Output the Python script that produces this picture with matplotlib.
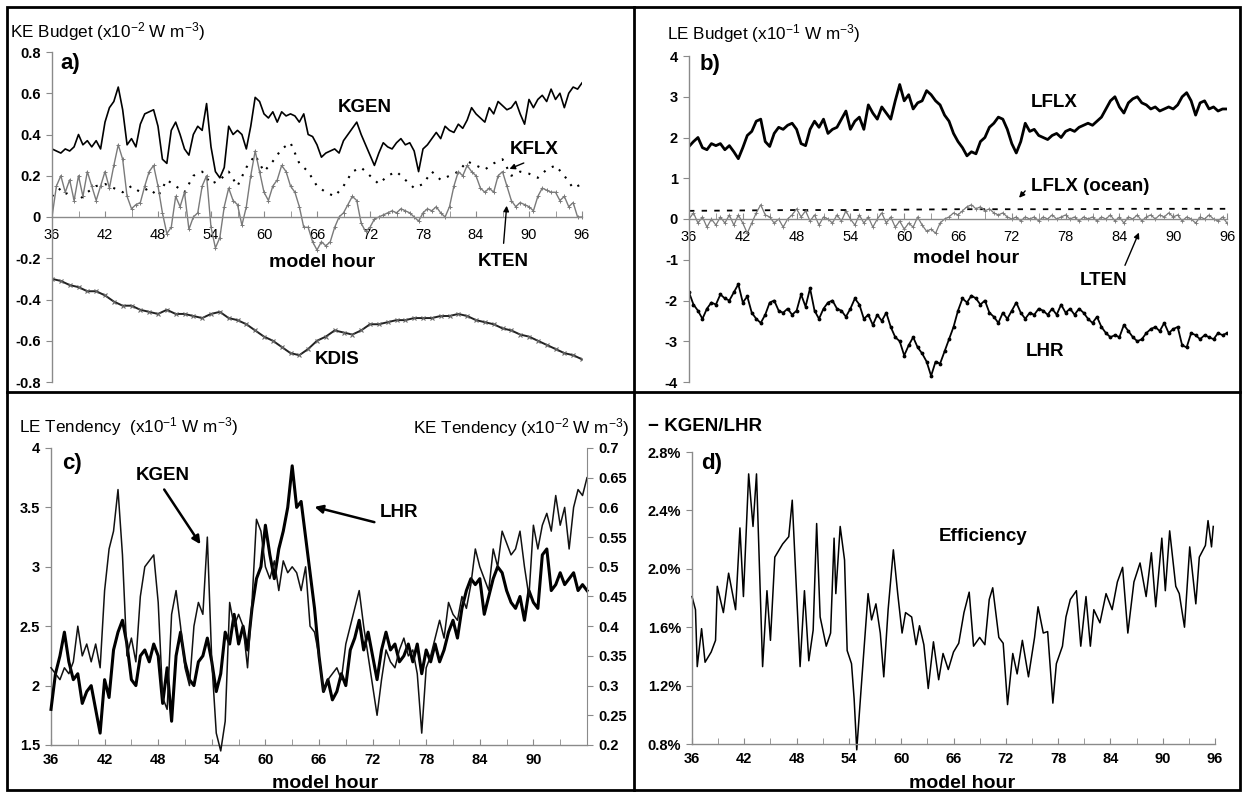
import numpy as np
import matplotlib
matplotlib.use("Agg")
from matplotlib import pyplot as plt
from matplotlib.lines import Line2D
from matplotlib.patches import Rectangle

plt.rcParams["font.family"] = ["Liberation Sans", "DejaVu Sans"]
plt.rcParams["axes.unicode_minus"] = False
plt.rcParams["mathtext.fontset"] = "custom"
plt.rcParams["mathtext.rm"] = "Liberation Sans"
plt.rcParams["mathtext.default"] = "regular"

# half-hourly model output, hours 36..96
hours = np.arange(36, 96.01, 0.5)

kgen = [0.33, 0.32, 0.31, 0.33, 0.32, 0.34, 0.40, 0.35, 0.37, 0.34,
        0.37, 0.33, 0.46, 0.53, 0.56, 0.63, 0.52, 0.35, 0.38, 0.34,
        0.45, 0.50, 0.51, 0.52, 0.44, 0.28, 0.26, 0.42, 0.46, 0.40,
        0.33, 0.30, 0.40, 0.44, 0.42, 0.55, 0.34, 0.22, 0.19, 0.24,
        0.44, 0.40, 0.42, 0.40, 0.33, 0.44, 0.58, 0.56, 0.50, 0.48,
        0.51, 0.46, 0.51, 0.49, 0.50, 0.49, 0.46, 0.50, 0.40, 0.39,
        0.35, 0.29, 0.31, 0.32, 0.33, 0.31, 0.37, 0.40, 0.43, 0.46,
        0.40, 0.35, 0.30, 0.25, 0.31, 0.36, 0.34, 0.33, 0.36, 0.38,
        0.35, 0.36, 0.32, 0.22, 0.33, 0.35, 0.38, 0.41, 0.38, 0.44,
        0.42, 0.41, 0.45, 0.43, 0.47, 0.53, 0.50, 0.48, 0.46, 0.53,
        0.50, 0.56, 0.54, 0.52, 0.53, 0.56, 0.50, 0.45, 0.57, 0.53,
        0.57, 0.59, 0.56, 0.62, 0.57, 0.60, 0.53, 0.60, 0.63, 0.62,
        0.65]

kten = [0.00, 0.15, 0.20, 0.12, 0.18, 0.08, 0.20, 0.10, 0.22, 0.15,
        0.08, 0.15, 0.22, 0.14, 0.25, 0.35, 0.28, 0.10, 0.04, 0.06,
        0.07, 0.15, 0.22, 0.25, 0.15, 0.02, -0.08, -0.05, 0.10, 0.05,
        0.12, -0.06, 0.00, 0.02, 0.15, 0.20, -0.05, -0.15, -0.10, 0.05,
        0.14, 0.08, 0.06, -0.04, 0.05, 0.20, 0.32, 0.22, 0.12, 0.08,
        0.15, 0.18, 0.25, 0.22, 0.15, 0.12, 0.05, -0.05, -0.05, -0.12,
        -0.16, -0.12, -0.14, -0.12, -0.05, 0.00, 0.02, 0.06, 0.10, 0.08,
        -0.03, -0.07, -0.05, -0.01, 0.00, 0.01, 0.02, 0.03, 0.02, 0.04,
        0.03, 0.02, 0.00, -0.02, 0.02, 0.04, 0.03, 0.05, 0.02, 0.00,
        0.05, 0.15, 0.22, 0.20, 0.25, 0.22, 0.20, 0.14, 0.12, 0.14,
        0.12, 0.20, 0.22, 0.15, 0.08, 0.05, 0.07, 0.06, 0.05, 0.03,
        0.10, 0.14, 0.13, 0.12, 0.12, 0.08, 0.10, 0.05, 0.07, 0.00,
        0.00]

lflx = [1.78, 1.90, 2.00, 1.75, 1.70, 1.85, 1.80, 1.85, 1.70, 1.80,
        1.65, 1.48, 1.75, 2.05, 2.15, 2.40, 2.45, 1.90, 1.78, 2.10,
        2.25, 2.20, 2.30, 2.35, 2.20, 1.85, 1.80, 2.20, 2.40, 2.25,
        2.45, 2.10, 2.20, 2.25, 2.45, 2.65, 2.20, 2.40, 2.50, 2.20,
        2.80, 2.60, 2.45, 2.75, 2.60, 2.45, 2.90, 3.30, 2.90, 3.05,
        2.70, 2.85, 2.90, 3.15, 3.05, 2.90, 2.80, 2.55, 2.40, 2.10,
        1.90, 1.75, 1.55, 1.65, 1.60, 1.90, 2.00, 2.25, 2.35, 2.50,
        2.45, 2.20, 1.85, 1.62, 1.90, 2.35, 2.15, 2.20, 2.05, 2.00,
        1.95, 2.05, 2.10, 2.00, 2.15, 2.20, 2.15, 2.25, 2.30, 2.35,
        2.30, 2.40, 2.50, 2.70, 2.90, 3.00, 2.75, 2.60, 2.85, 2.95,
        3.00, 2.85, 2.80, 2.70, 2.75, 2.65, 2.70, 2.75, 2.70, 2.80,
        3.00, 3.10, 2.90, 2.55, 2.85, 2.90, 2.70, 2.75, 2.65, 2.70,
        2.70]

lten = [0.00, 0.15, -0.10, 0.05, -0.20, 0.00, -0.15, 0.05, -0.10, 0.10,
        -0.15, 0.10, -0.10, -0.35, -0.10, 0.15, 0.35, 0.10, 0.05, -0.10,
        0.00, -0.20, 0.00, 0.10, 0.25, 0.05, 0.20, -0.05, 0.10, -0.15,
        0.05, 0.00, -0.10, 0.10, -0.05, 0.20, 0.00, -0.15, 0.10, -0.10,
        0.05, -0.20, 0.00, 0.15, -0.10, 0.05, -0.20, -0.05, -0.25, -0.10,
        -0.20, 0.05, -0.15, -0.30, -0.25, -0.35, -0.10, 0.00, 0.05, 0.15,
        0.10, 0.20, 0.30, 0.35, 0.25, 0.30, 0.20, 0.25, 0.15, 0.10,
        0.15, 0.05, 0.00, 0.05, -0.05, 0.05, 0.00, 0.05, -0.05, 0.05,
        0.00, 0.10, 0.00, 0.05, 0.10, 0.00, 0.05, -0.05, 0.05, 0.00,
        0.05, -0.05, 0.05, 0.00, 0.10, -0.05, 0.05, -0.10, 0.05, 0.00,
        0.10, -0.05, 0.05, 0.10, 0.00, 0.10, 0.05, 0.15, 0.05, 0.10,
        -0.05, 0.05, 0.00, -0.10, 0.05, 0.00, 0.10, 0.00, -0.05, 0.05,
        -0.10]

lhr = [-1.80, -2.10, -2.25, -2.45, -2.20, -2.05, -2.10, -1.85, -1.95, -2.00,
       -1.80, -1.60, -2.05, -1.90, -2.30, -2.45, -2.55, -2.35, -2.05, -2.00,
       -2.25, -2.30, -2.20, -2.35, -2.25, -1.85, -2.15, -1.70, -2.25, -2.45,
       -2.20, -2.05, -2.00, -2.20, -2.25, -2.40, -2.20, -1.95, -2.10, -2.45,
       -2.35, -2.60, -2.35, -2.50, -2.30, -2.65, -2.90, -3.00, -3.35, -3.10,
       -2.90, -3.15, -3.30, -3.50, -3.85, -3.50, -3.55, -3.25, -2.95, -2.65,
       -2.25, -1.95, -2.05, -1.88, -1.95, -2.10, -2.00, -2.30, -2.40, -2.55,
       -2.30, -2.45, -2.25, -2.05, -2.30, -2.45, -2.30, -2.35, -2.20, -2.25,
       -2.35, -2.20, -2.35, -2.10, -2.30, -2.20, -2.35, -2.20, -2.30, -2.45,
       -2.55, -2.40, -2.65, -2.80, -2.90, -2.85, -2.90, -2.60, -2.75, -2.90,
       -3.00, -2.95, -2.80, -2.70, -2.65, -2.75, -2.55, -2.80, -2.70, -2.65,
       -3.10, -3.15, -2.80, -2.85, -2.95, -2.85, -2.90, -2.95, -2.80, -2.85,
       -2.80]

# hourly series
hours_1h = np.arange(36, 97, 1)
kflx = [0.10, 0.14, 0.10, 0.08, 0.12, 0.15, 0.16, 0.14, 0.12, 0.15,
        0.12, 0.14, 0.10, 0.18, 0.15, 0.12, 0.20, 0.22, 0.16, 0.18,
        0.22, 0.15, 0.24, 0.30, 0.22, 0.27, 0.33, 0.36, 0.26, 0.22,
        0.15, 0.12, 0.10, 0.15, 0.22, 0.24, 0.20, 0.16, 0.20, 0.22,
        0.18, 0.14, 0.16, 0.22, 0.18, 0.20, 0.22, 0.27, 0.25, 0.23,
        0.26, 0.28, 0.20, 0.22, 0.21, 0.19, 0.23, 0.25, 0.20, 0.14,
        0.16]
kdis = [-0.30, -0.31, -0.33, -0.34, -0.36, -0.36, -0.38, -0.41, -0.43, -0.43,
        -0.45, -0.46, -0.47, -0.45, -0.47, -0.47, -0.48, -0.49, -0.47, -0.46,
        -0.49, -0.50, -0.52, -0.55, -0.58, -0.60, -0.63, -0.66, -0.67, -0.64,
        -0.60, -0.58, -0.55, -0.56, -0.57, -0.55, -0.52, -0.52, -0.51, -0.50,
        -0.50, -0.49, -0.49, -0.49, -0.48, -0.48, -0.47, -0.48, -0.50, -0.51,
        -0.52, -0.54, -0.55, -0.57, -0.58, -0.60, -0.62, -0.64, -0.66, -0.67,
        -0.69]

ocean_hours = [36, 42, 48, 54, 60, 66, 72, 78, 84, 90, 96]
lflx_ocean = [0.20, 0.21, 0.22, 0.22, 0.23, 0.24, 0.24, 0.24, 0.25, 0.25, 0.25]

# -KGEN/LHR in percent
eff_hours = [36.0, 36.4, 36.6, 37.1, 37.5, 38.2, 38.7, 38.9, 39.6, 40.2,
             41.0, 41.5, 41.9, 42.5, 43.0, 43.4, 44.1, 44.6, 45.0, 45.5,
             46.4, 47.1, 47.5, 48.0, 48.4, 48.9, 49.4, 49.9, 50.3, 50.7,
             51.4, 51.9, 52.3, 52.5, 53.0, 53.5, 53.8, 54.3, 54.6, 54.9,
             55.5, 56.2, 56.6, 57.1, 57.6, 58.0, 58.5, 59.1, 59.6, 60.1,
             60.5, 61.2, 61.7, 62.1, 62.6, 63.1, 63.7, 64.3, 64.8, 65.4,
             66.0, 66.6, 67.2, 67.8, 68.3, 69.0, 69.6, 70.1, 70.5, 71.2,
             71.7, 72.2, 72.8, 73.3, 73.9, 74.6, 75.3, 75.7, 76.3, 76.8,
             77.4, 77.8, 78.5, 78.9, 79.4, 80.1, 80.6, 81.2, 81.7, 82.1,
             82.8, 83.5, 84.2, 84.8, 85.4, 86.0, 86.7, 87.4, 88.1, 88.7,
             89.2, 89.9, 90.3, 90.8, 91.5, 91.9, 92.5, 93.1, 93.8, 94.2,
             94.9, 95.2, 95.6, 95.8]
eff_values = [1.81, 1.72, 1.33, 1.59, 1.36, 1.43, 1.51, 1.88, 1.70, 1.97,
              1.72, 2.28, 1.81, 2.65, 2.29, 2.65, 1.33, 1.85, 1.51, 2.08,
              2.17, 2.22, 2.47, 1.83, 1.33, 1.85, 1.37, 1.58, 2.31, 1.67,
              1.47, 1.56, 2.21, 1.83, 2.29, 2.06, 1.44, 1.35, 1.11, 0.76,
              1.26, 1.83, 1.65, 1.76, 1.56, 1.26, 1.72, 2.13, 1.83, 1.56,
              1.70, 1.67, 1.48, 1.61, 1.48, 1.18, 1.50, 1.24, 1.42, 1.31,
              1.43, 1.49, 1.70, 1.84, 1.47, 1.53, 1.48, 1.79, 1.87, 1.53,
              1.49, 1.07, 1.42, 1.28, 1.51, 1.26, 1.53, 1.74, 1.56, 1.57,
              1.08, 1.35, 1.47, 1.67, 1.79, 1.85, 1.47, 1.81, 1.47, 1.72,
              1.63, 1.83, 1.72, 1.91, 2.01, 1.56, 1.91, 2.04, 1.81, 2.11,
              1.74, 2.21, 1.85, 2.26, 1.88, 1.83, 1.60, 2.15, 1.76, 2.08,
              2.16, 2.33, 2.15, 2.29]

W, H = 1244, 794
AXIS_GREY = "#8a8a8a"
TICK_SIZE = 10.5
LABEL_SIZE = 13.5
TITLE_SIZE = 12.3
HOUR_SIZE = 14


def fx(px):
    return px / W


def fy(py):
    return 1 - py / H


def style_axes(ax, xticks, ylim, yticks, yfmt, xpad):
    for side in ("top", "right"):
        ax.spines[side].set_visible(False)
    for side in ("left", "bottom"):
        ax.spines[side].set_color(AXIS_GREY)
        ax.spines[side].set_linewidth(1)
    ax.set_xlim(36, 96)
    ax.set_ylim(*ylim)
    ax.set_xticks(xticks)
    ax.set_xticklabels([str(t) for t in xticks], fontweight="bold")
    ax.set_xticks(range(36, 97, 3), minor=True)
    ax.set_yticks(yticks)
    ax.set_yticklabels([yfmt(t) for t in yticks], fontweight="bold")
    ax.tick_params(axis="x", which="both", direction="in", length=4,
                   color=AXIS_GREY, labelsize=TICK_SIZE, pad=xpad)
    ax.tick_params(axis="y", direction="out", length=4, color=AXIS_GREY,
                   labelsize=TICK_SIZE, pad=4)
    ax.patch.set_visible(False)


def label(ax, x, y, s, **kw):
    kw.setdefault("ha", "center")
    ax.text(x, y, s, fontsize=LABEL_SIZE, fontweight="bold", va="center", **kw)


def arrow(ax, tip, tail, lw=1.0, scale=8):
    ax.annotate("", xy=tip, xytext=tail,
                arrowprops=dict(arrowstyle="-|>", color="black", lw=lw,
                                mutation_scale=scale))


fig = plt.figure(figsize=(W / 100, H / 100), dpi=100)

# ---- a) KE budget
ax_a = fig.add_axes([fx(52), fy(382), (582 - 52) / W, (382 - 52) / H])
style_axes(ax_a, range(36, 97, 6), (-0.8, 0.8),
           np.round(np.arange(-0.8, 0.81, 0.2), 1),
           lambda v: "0" if abs(v) < 1e-9 else f"{v:g}", 8)
ax_a.spines["bottom"].set_position(("data", 0))
ax_a.plot(hours, kgen, color="black", lw=1.2)
ax_a.plot(hours_1h, kflx, color="black", lw=1.5, linestyle=(0, (1, 3.5)))
ax_a.plot(hours, kten, color="#7a7a7a", lw=1.0, marker="+", ms=3, mew=0.7)
ax_a.plot(hours_1h, kdis, color="#222222", lw=1.4, marker="x", ms=3.5,
          mew=0.8, mec="#666666")
ax_a.text(36.9, 0.745, "a)", fontsize=16, fontweight="bold", va="center")
label(ax_a, 71.4, 0.53, "KGEN")
label(ax_a, 90.6, 0.325, "KFLX")
arrow(ax_a, (87.5, 0.228), (89.7, 0.267))
label(ax_a, 87.1, -0.218, "KTEN")
arrow(ax_a, (87.5, 0.068), (87.1, -0.141))
ax_a.text(66.6, -0.223, "model hour", fontsize=HOUR_SIZE, fontweight="bold",
          ha="center", va="center")
label(ax_a, 68.3, -0.693, "KDIS")
fig.text(fx(10), fy(32), "KE Budget (x10$^{-2}$ W m$^{-3}$)",
         fontsize=TITLE_SIZE, va="center")

# ---- b) LE budget
ax_b = fig.add_axes([fx(689), fy(382), (1227 - 689) / W, (382 - 56) / H])
style_axes(ax_b, range(36, 97, 6), (-4, 4), list(range(-4, 5)),
           lambda v: str(v), 8)
ax_b.spines["bottom"].set_position(("data", 0))
ax_b.plot(hours, lflx, color="black", lw=2.0)
ax_b.plot(ocean_hours, lflx_ocean, color="black", lw=1.3,
          linestyle=(0, (3, 4)))
ax_b.plot(hours, lten, color="#7a7a7a", lw=0.9, marker="+", ms=3, mew=0.6)
ax_b.plot(hours, lhr, color="black", lw=1.3, marker=".", ms=3.5)
ax_b.text(37.2, 3.78, "b)", fontsize=16, fontweight="bold", va="center")
label(ax_b, 76.7, 2.87, "LFLX")
label(ax_b, 74.1, 0.79, "LFLX (ocean)", ha="left")
arrow(ax_b, (72.6, 0.47), (73.7, 0.74))
ax_b.text(66.9, -0.96, "model hour", fontsize=HOUR_SIZE, fontweight="bold",
          ha="center", va="center")
label(ax_b, 82.2, -1.5, "LTEN")
arrow(ax_b, (86.3, -0.27), (84.5, -1.2))
label(ax_b, 75.7, -3.26, "LHR")
fig.text(fx(667), fy(34), "LE Budget (x10$^{-1}$ W m$^{-3}$)",
         fontsize=TITLE_SIZE, va="center")

# ---- c) LE and KE tendency on twin axes
ax_c = fig.add_axes([fx(51), fy(745), (587 - 51) / W, (745 - 448) / H])
style_axes(ax_c, range(36, 91, 6), (1.5, 4.0),
           [1.5, 2.0, 2.5, 3.0, 3.5, 4.0], lambda v: f"{v:g}", 6)
ax_c2 = ax_c.twinx()
for side in ("top", "left", "bottom"):
    ax_c2.spines[side].set_visible(False)
ax_c2.spines["right"].set_color(AXIS_GREY)
ax_c2.set_ylim(0.2, 0.7)
kt = np.round(np.arange(0.2, 0.701, 0.05), 2)
ax_c2.set_yticks(kt)
ax_c2.set_yticklabels([f"{v:g}" for v in kt], fontweight="bold")
ax_c2.tick_params(axis="y", direction="out", length=4, color=AXIS_GREY,
                  labelsize=TICK_SIZE, pad=4)
ax_c.plot(hours, [-v for v in lhr], color="black", lw=2.2, clip_on=False,
          zorder=3)
ax_c2.plot(hours, kgen, color="#111111", lw=1.1, clip_on=False)
ax_c.text(37.2, 3.87, "c)", fontsize=16, fontweight="bold", va="center")
label(ax_c, 48.5, 3.77, "KGEN")
arrow(ax_c, (52.9, 3.17), (48.5, 3.67), lw=1.8, scale=12)
label(ax_c, 72.8, 3.46, "LHR", ha="left")
arrow(ax_c, (65.2, 3.51), (72.5, 3.37), lw=1.8, scale=12)
fig.text(fx(19), fy(427), "LE Tendency  (x10$^{-1}$ W m$^{-3}$)",
         fontsize=TITLE_SIZE, va="center")
fig.text(fx(413), fy(428), "KE Tendency (x10$^{-2}$ W m$^{-3}$)",
         fontsize=TITLE_SIZE, va="center")
fig.text(fx(325), fy(783), "model hour", fontsize=HOUR_SIZE,
         fontweight="bold", ha="center", va="center")

# ---- d) efficiency
ax_d = fig.add_axes([fx(692), fy(744), (1215 - 692) / W, (744 - 452) / H])
style_axes(ax_d, range(36, 97, 6), (0.8, 2.8),
           [0.8, 1.2, 1.6, 2.0, 2.4, 2.8], lambda v: f"{v:.1f}%", 6)
ax_d.plot(eff_hours, eff_values, color="black", lw=1.1, clip_on=False)
ax_d.text(37.0, 2.72, "d)", fontsize=16, fontweight="bold", va="center")
label(ax_d, 69.4, 2.22, "Efficiency")
fig.text(fx(648), fy(427), "\u2212 KGEN/LHR", fontsize=13.5,
         fontweight="bold", va="center")
fig.text(fx(962), fy(783), "model hour", fontsize=HOUR_SIZE,
         fontweight="bold", ha="center", va="center")

# panel frame
fig.add_artist(Rectangle((fx(7), fy(790)), (1240 - 7) / W, (790 - 7) / H,
                         transform=fig.transFigure, fill=False,
                         edgecolor="black", lw=2))
fig.add_artist(Line2D([fx(634), fx(634)], [fy(7), fy(790)],
                      transform=fig.transFigure, color="black", lw=2))
fig.add_artist(Line2D([fx(7), fx(1240)], [fy(392), fy(392)],
                      transform=fig.transFigure, color="black", lw=2))

fig.savefig("out.png", dpi=100)
